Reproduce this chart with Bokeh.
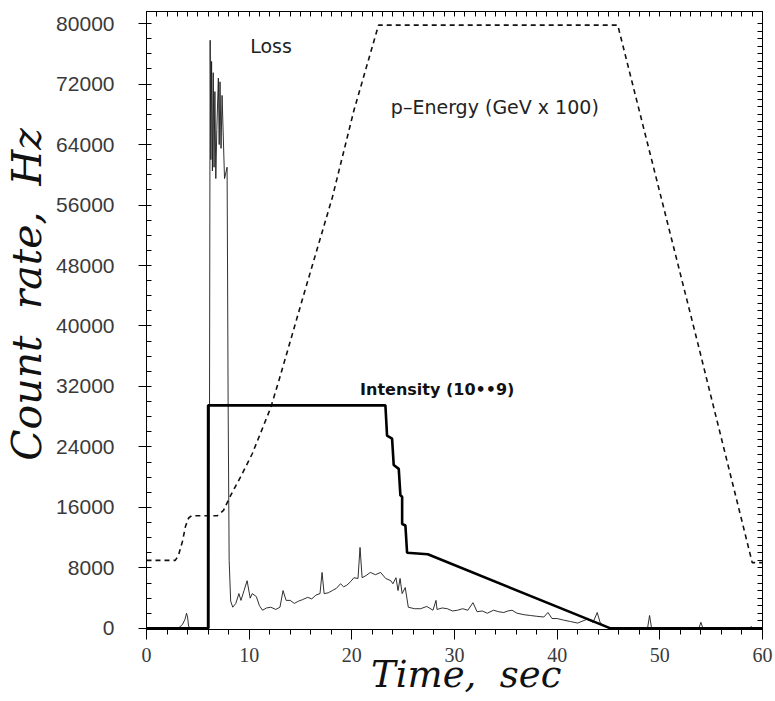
from bokeh.plotting import figure
from bokeh.models import Range1d, LinearAxis, FixedTicker, Label
from bokeh.embed import file_html
from bokeh.resources import INLINE

# ---------------- data ----------------
# Loss count rate (thin solid line)
loss_t = [0, 2.9, 3.2, 3.5, 3.75, 3.9, 4.0, 4.1, 4.3, 6.1,
          6.2, 6.27, 6.34, 6.42, 6.5, 6.58, 6.66, 6.75, 6.85,
          7.0, 7.08, 7.16, 7.26, 7.36, 7.6, 7.85, 7.95, 8.05, 8.2,
          8.4, 8.7, 9.0, 9.2, 9.5, 9.8, 10.1, 10.3, 10.7, 11.0, 11.3, 11.7, 12.1, 12.6,
          13.0, 13.3, 13.6, 14.0, 14.4, 14.8, 15.2, 15.7, 16.1, 16.5, 16.9, 17.1, 17.3,
          17.7, 18.1, 18.5, 18.9, 19.2, 19.5, 19.9, 20.2, 20.6, 20.8, 21.0, 21.4, 21.8,
          22.3, 22.8, 23.3, 23.8, 24.0, 24.3, 24.5, 24.7, 24.9, 25.2, 25.5, 26.1, 26.7,
          27.3, 27.9, 28.2, 28.3, 28.8, 29.3, 29.8, 30.3, 30.8, 31.3, 31.8, 32.2, 32.7,
          33.2, 33.8, 34.3, 34.8, 35.2, 35.6, 36.1, 36.8, 37.4, 38.0, 38.7, 39.1, 39.5,
          40.0, 40.6, 41.3, 42.0, 42.9, 43.5, 43.9, 44.2, 44.9, 45.2,
          48.8, 49.0, 49.2, 53.8, 54.0, 54.2, 58.8, 58.9, 59.0, 60]
loss_v = [0, 0, 150, 500, 1200, 2000, 1500, 300, 0, 0,
          77800, 62000, 75000, 60500, 73500, 61000, 71000, 59500, 66000,
          72800, 64000, 72300, 63500, 70500, 59500, 61000, 30000, 9000, 3600,
          2800, 3300, 4600, 3700, 5000, 6300, 4000, 4600, 4200, 3000, 2400, 2700, 2800, 2500,
          2800, 5000, 3700, 3700, 3300, 3600, 3800, 4100, 3900, 4400, 4600, 7400, 4600,
          4700, 5000, 5300, 5900, 5500, 5700, 6200, 6700, 6600, 10700, 6700, 7000, 7400,
          7100, 7400, 6600, 6300, 5900, 6700, 5000, 6600, 4600, 5400, 2800, 2600, 2600,
          2900, 2400, 3700, 2500, 2700, 2600, 2300, 2400, 2600, 2400, 3400, 2200, 2300,
          2000, 2400, 2200, 2100, 2300, 2400, 2000, 1800, 1700, 1600, 1500, 2100, 1300,
          1300, 1100, 900, 700, 1200, 800, 2100, 700, 100, 0,
          0, 1700, 0, 0, 800, 0, 0, 250, 0, 0]

# Beam intensity, units of 10**9 (thick solid line)
int_t = [0, 6.0, 6.0, 23.27, 23.43, 23.92, 24.08, 24.57, 24.73, 24.9, 24.9, 25.22, 25.38, 27.4, 45.2, 60]
int_v = [0, 0, 29500, 29500, 25500, 25100, 21600, 21100, 17600, 17400, 13800, 13600, 10000, 9800, 0, 0]

# Proton energy, GeV x 100 (dashed line)
en_t = [0, 2.8, 3.1, 3.5, 3.8, 4.1, 4.4, 6.9, 7.5, 8.2, 9.15, 10.3, 11.1, 12.1, 12.9,
        15.5, 18.1, 20.2, 22.6, 45.9, 53.7, 59.0, 60]
en_v = [9000, 9000, 9600, 11500, 13500, 14600, 14900, 14900, 15600, 17600, 20000, 23100, 25800, 29200, 32800,
        45000, 57000, 68500, 79800, 79800, 37700, 8700, 8700]

x_ticks = [0, 10, 20, 30, 40, 50, 60]
x_minor = list(range(0, 61, 2))
x_top_ticks = list(range(0, 61, 1))
y_ticks = [0, 8000, 16000, 24000, 32000, 40000, 48000, 56000, 64000, 72000, 80000]
y_minor = list(range(0, 81000, 2000))
y_right_ticks = list(range(0, 81000, 1000))

# ---------------- figure ----------------
p = figure(width=775, height=701, output_backend="svg", toolbar_location=None,
           x_range=Range1d(0, 60), y_range=Range1d(-150, 81600),
           min_border_left=146, min_border_right=13, min_border_top=11, min_border_bottom=72,
           background_fill_color="white", border_fill_color="white")
p.grid.visible = False
p.outline_line_color = "black"
p.outline_line_width = 1

INK = "#111111"
p.line(en_t, en_v, line_color=INK, line_width=1.6, line_dash="5 4")
p.line(loss_t, loss_v, line_color="#1a1a1a", line_width=0.9)
p.line(int_t, int_v, line_color="black", line_width=2.6)

# bottom axis
xa = p.xaxis[0]
xa.ticker = FixedTicker(ticks=x_ticks, minor_ticks=x_minor)
xa.major_tick_in = 0
xa.major_tick_out = 10
xa.minor_tick_in = 0
xa.minor_tick_out = 5
xa.major_label_standoff = 8
xa.major_label_text_font = "Liberation Serif"
xa.major_label_text_font_size = "20px"
xa.major_label_text_color = "#3a3a3a"
xa.axis_label = "\u00a0\u00a0Time,\u00a0 sec"
xa.axis_label_text_font = "DejaVu Serif"
xa.axis_label_text_font_style = "italic"
xa.axis_label_text_font_size = "37px"
xa.axis_label_text_color = "#111111"
xa.axis_label_standoff = -12

# left axis
ya = p.yaxis[0]
ya.ticker = FixedTicker(ticks=y_ticks, minor_ticks=y_minor)
ya.major_tick_in = 0
ya.major_tick_out = 8
ya.minor_tick_in = 5
ya.minor_tick_out = 0
ya.major_label_standoff = 24
ya.major_label_text_font = "Liberation Sans"
ya.major_label_text_font_size = "21px"
ya.major_label_text_color = "#3a3a3a"
ya.axis_label = "\u00a0\u00a0\u00a0\u00a0Count\u00a0 rate,\u00a0 Hz"
ya.axis_label_text_font = "DejaVu Serif"
ya.axis_label_text_font_style = "italic"
ya.axis_label_text_font_size = "41px"
ya.axis_label_text_color = "#111111"
ya.axis_label_standoff = 2

# top axis: tick marks only
top = LinearAxis(ticker=FixedTicker(ticks=[], minor_ticks=x_top_ticks),
                 major_tick_in=0, major_tick_out=0, minor_tick_in=5, minor_tick_out=0,
                 axis_line_color="black")
p.add_layout(top, "above")

# right axis: tick marks only
right = LinearAxis(ticker=FixedTicker(ticks=[], minor_ticks=y_right_ticks),
                   major_tick_in=0, major_tick_out=0, minor_tick_in=5, minor_tick_out=0,
                   axis_line_color="black")
p.add_layout(right, "right")

# in-plot annotations
p.add_layout(Label(x=10.1, y=77000, text="Loss", text_baseline="middle",
                   text_font="DejaVu Sans", text_font_size="19px", text_color="#222222"))
p.add_layout(Label(x=23.8, y=69000, text="p\u2013Energy (GeV x 100)", text_baseline="middle",
                   text_font="DejaVu Sans", text_font_size="19px", text_color="#222222"))
p.add_layout(Label(x=20.8, y=31600, text="Intensity (10\u2022\u20229)", text_baseline="middle",
                   text_font="DejaVu Sans", text_font_style="bold", text_font_size="16px",
                   text_color="#111111"))

open("out.html", "w").write(file_html(p, INLINE))
